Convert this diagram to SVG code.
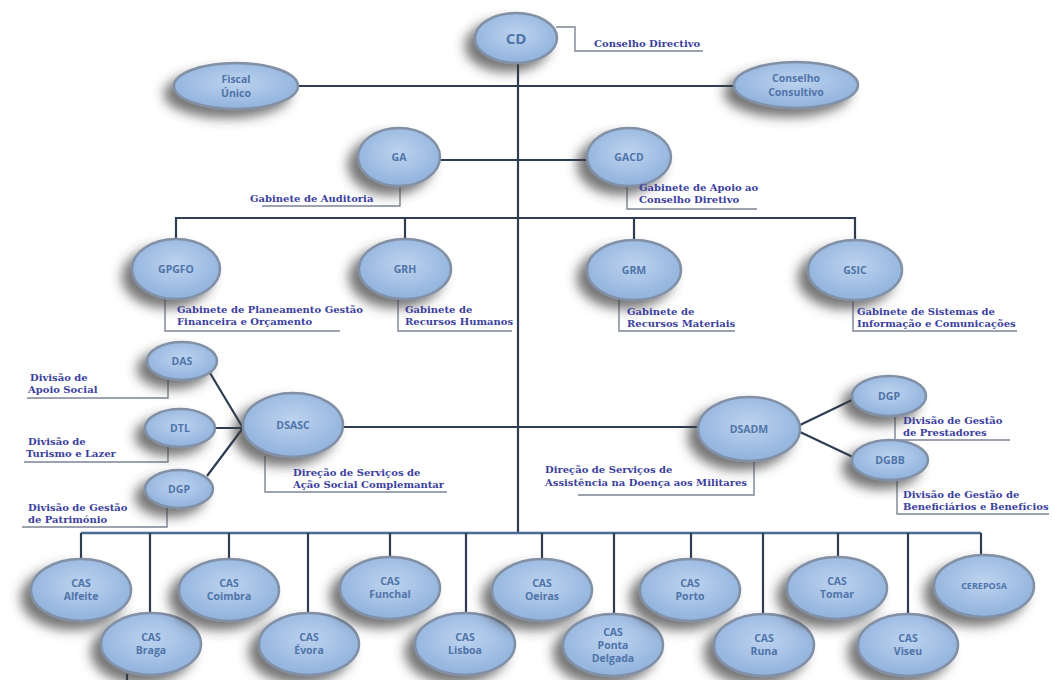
<svg xmlns="http://www.w3.org/2000/svg" width="1052" height="680" viewBox="0 0 1052 680">
<style>
.n{fill:url(#g);stroke:#8290a6;stroke-width:2.5;filter:url(#sh)}
.t{font-family:"Open Sans","Liberation Sans",sans-serif;font-weight:700;font-size:10.5px;fill:#4f74a8;text-anchor:middle}
.l{font-family:"DejaVu Serif","Liberation Serif",serif;font-weight:700;font-size:10px;fill:#3b3f9e}
.c{fill:none;stroke:#2e3d52;stroke-width:2.2}
.b{fill:none;stroke:#4a6a92;stroke-width:2.5}
.a{fill:none;stroke:#7c8594;stroke-width:1.4}
</style>
<defs>
<radialGradient id="g" cx="50%" cy="42%" r="60%"><stop offset="0" stop-color="#bdd3ef"/><stop offset="1" stop-color="#8fb1dc"/></radialGradient>
<filter id="sh" x="-50%" y="-50%" width="200%" height="200%"><feDropShadow dx="-9" dy="8" stdDeviation="6" flood-color="#3a3a3a" flood-opacity="0.7"/></filter>
</defs>
<rect width="1052" height="680" fill="#fff"/>
<g id="connectors">
<path class="c" d="M518 62V533"/>
<path class="c" d="M298 86H734"/>
<path class="c" d="M440 160H588"/>
<path class="c" d="M176 240V218H855V240M405 218V240M634 218V240"/>
<path class="c" d="M343 427H698"/>
<path class="c" d="M210 373L243 428M215 428H243M207 476L243 428"/>
<path class="c" d="M800 425L854 399M800 432L855 458"/>
<path class="b" d="M81 533H981"/>
<path class="c" d="M81 533V560M229 533V560M390 533V558M542 533V560M691 533V560M838 533V558M981 533V556M150 533V613M308 533V613M466 533V613M614 533V614M763 533V614M908 533V614M127 674V680"/>
<path class="a" d="M556 27H575V51H703"/>
<path class="a" d="M400 186V206H262"/>
<path class="a" d="M627 186V209H757"/>
<path class="a" d="M165 298V331H340"/>
<path class="a" d="M398 298V331H512"/>
<path class="a" d="M619 299V331H735"/>
<path class="a" d="M853 299V331H1017"/>
<path class="a" d="M168 380V398H27"/>
<path class="a" d="M168 447V462H24"/>
<path class="a" d="M167 508V527H22"/>
<path class="a" d="M265 456V492H447"/>
<path class="a" d="M754 461V495H578"/>
<path class="a" d="M895 416V440H1010"/>
<path class="a" d="M897 480V514H1049"/>
</g>
<g id="CD"><ellipse class="n" cx="516" cy="38" rx="41" ry="25"/><text class="t" x="516" y="44" style="font-size:15px">CD</text><text class="l" x="594" y="47">Conselho Directivo</text></g>
<g id="FiscalUnico"><ellipse class="n" cx="236" cy="86" rx="62" ry="23"/><text class="t" x="236" y="83">Fiscal</text><text class="t" x="236" y="97">Único</text></g>
<g id="ConselhoConsultivo"><ellipse class="n" cx="796" cy="85" rx="62" ry="23"/><text class="t" x="796" y="82">Conselho</text><text class="t" x="796" y="96">Consultivo</text></g>
<g id="GA"><ellipse class="n" cx="399" cy="157" rx="41" ry="29"/><text class="t" x="399" y="161">GA</text><text class="l" x="250" y="202">Gabinete de Auditoria</text></g>
<g id="GACD"><ellipse class="n" cx="629" cy="157" rx="42" ry="29"/><text class="t" x="629" y="161">GACD</text><text class="l" x="639" y="191">Gabinete de Apoio ao</text><text class="l" x="639" y="203">Conselho Diretivo</text></g>
<g id="GPGFO"><ellipse class="n" cx="176" cy="269" rx="44" ry="30"/><text class="t" x="176" y="273">GPGFO</text><text class="l" x="177" y="313">Gabinete de Planeamento Gestão</text><text class="l" x="177" y="325">Financeira e Orçamento</text></g>
<g id="GRH"><ellipse class="n" cx="405" cy="269" rx="46" ry="30"/><text class="t" x="405" y="273">GRH</text><text class="l" x="405" y="313">Gabinete de</text><text class="l" x="405" y="325">Recursos Humanos</text></g>
<g id="GRM"><ellipse class="n" cx="634" cy="270" rx="47" ry="30"/><text class="t" x="634" y="274">GRM</text><text class="l" x="627" y="315">Gabinete de</text><text class="l" x="627" y="327">Recursos Materiais</text></g>
<g id="GSIC"><ellipse class="n" cx="855" cy="270" rx="47" ry="30"/><text class="t" x="855" y="274">GSIC</text><text class="l" x="857" y="315">Gabinete de Sistemas de</text><text class="l" x="857" y="327">Informação e Comunicações</text></g>
<g id="DAS"><ellipse class="n" cx="182" cy="361" rx="35" ry="19"/><text class="t" x="182" y="365">DAS</text><text class="l" x="30" y="381">Divisão de</text><text class="l" x="28" y="393">Apoio Social</text></g>
<g id="DTL"><ellipse class="n" cx="180" cy="428" rx="35" ry="19"/><text class="t" x="180" y="432">DTL</text><text class="l" x="28" y="445">Divisão de</text><text class="l" x="26" y="457">Turismo e Lazer</text></g>
<g id="DGP-DSASC"><ellipse class="n" cx="179" cy="489" rx="34" ry="19"/><text class="t" x="179" y="493">DGP</text><text class="l" x="28" y="511">Divisão de Gestão</text><text class="l" x="28" y="523">de Património</text></g>
<g id="DSASC"><ellipse class="n" cx="293" cy="425" rx="50" ry="32"/><text class="t" x="293" y="429">DSASC</text><text class="l" x="293" y="476">Direção de Serviços de</text><text class="l" x="293" y="488">Ação Social Complemantar</text></g>
<g id="DSADM"><ellipse class="n" cx="749" cy="429" rx="51" ry="32"/><text class="t" x="749" y="433">DSADM</text><text class="l" x="545" y="473">Direção de Serviços de</text><text class="l" x="545" y="486">Assistência na Doença aos Militares</text></g>
<g id="DGP-DSADM"><ellipse class="n" cx="889" cy="396" rx="37" ry="20"/><text class="t" x="889" y="400">DGP</text><text class="l" x="903" y="424">Divisão de Gestão</text><text class="l" x="903" y="436">de Prestadores</text></g>
<g id="DGBB"><ellipse class="n" cx="890" cy="460" rx="38" ry="20"/><text class="t" x="890" y="464">DGBB</text><text class="l" x="903" y="498">Divisão de Gestão de</text><text class="l" x="903" y="510">Beneficiários e Benefícios</text></g>
<g id="CAS-Alfeite"><ellipse class="n" cx="81" cy="590" rx="50" ry="31"/><text class="t" x="81" y="587">CAS</text><text class="t" x="81" y="600">Alfeite</text></g>
<g id="CAS-Braga"><ellipse class="n" cx="151" cy="644" rx="50" ry="31"/><text class="t" x="151" y="641">CAS</text><text class="t" x="151" y="654">Braga</text></g>
<g id="CAS-Coimbra"><ellipse class="n" cx="229" cy="590" rx="50" ry="31"/><text class="t" x="229" y="587">CAS</text><text class="t" x="229" y="600">Coimbra</text></g>
<g id="CAS-Evora"><ellipse class="n" cx="309" cy="644" rx="50" ry="31"/><text class="t" x="309" y="641">CAS</text><text class="t" x="309" y="654">Évora</text></g>
<g id="CAS-Funchal"><ellipse class="n" cx="390" cy="588" rx="50" ry="31"/><text class="t" x="390" y="585">CAS</text><text class="t" x="390" y="598">Funchal</text></g>
<g id="CAS-Lisboa"><ellipse class="n" cx="465" cy="644" rx="50" ry="31"/><text class="t" x="465" y="641">CAS</text><text class="t" x="465" y="654">Lisboa</text></g>
<g id="CAS-Oeiras"><ellipse class="n" cx="542" cy="590" rx="50" ry="31"/><text class="t" x="542" y="587">CAS</text><text class="t" x="542" y="600">Oeiras</text></g>
<g id="CAS-PontaDelgada"><ellipse class="n" cx="613" cy="645" rx="50" ry="31"/><text class="t" x="613" y="636">CAS</text><text class="t" x="613" y="649">Ponta</text><text class="t" x="613" y="662">Delgada</text></g>
<g id="CAS-Porto"><ellipse class="n" cx="690" cy="590" rx="50" ry="31"/><text class="t" x="690" y="587">CAS</text><text class="t" x="690" y="600">Porto</text></g>
<g id="CAS-Runa"><ellipse class="n" cx="764" cy="645" rx="50" ry="31"/><text class="t" x="764" y="642">CAS</text><text class="t" x="764" y="655">Runa</text></g>
<g id="CAS-Tomar"><ellipse class="n" cx="837" cy="588" rx="50" ry="31"/><text class="t" x="837" y="585">CAS</text><text class="t" x="837" y="598">Tomar</text></g>
<g id="CAS-Viseu"><ellipse class="n" cx="908" cy="645" rx="50" ry="31"/><text class="t" x="908" y="642">CAS</text><text class="t" x="908" y="655">Viseu</text></g>
<g id="CEREPOSA"><ellipse class="n" cx="984" cy="586" rx="50" ry="31"/><text class="t" x="984" y="589" style="font-size:9px">CEREPOSA</text></g>
</svg>
